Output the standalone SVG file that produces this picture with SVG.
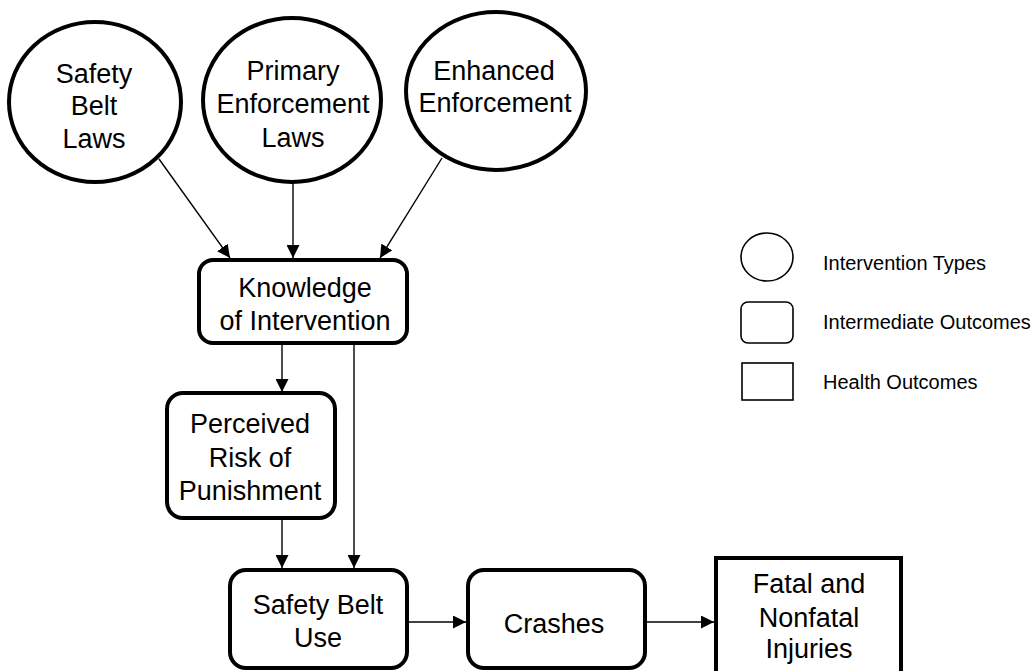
<svg xmlns="http://www.w3.org/2000/svg" width="1035" height="671" viewBox="0 0 1035 671">
<style>
  .node { fill: #fff; stroke: #000; stroke-width: 4; }
  .leg { fill: #fff; stroke: #000; stroke-width: 1.6; }
  .t { font-family: "Liberation Sans", Arial, sans-serif; font-size: 27px; fill: #000; text-anchor: middle; }
  .lt { font-family: "Liberation Sans", Arial, sans-serif; font-size: 20px; fill: #000; }
  .c { stroke: #000; stroke-width: 1.4; fill: none; marker-end: url(#ah); }
</style>
<defs>
  <marker id="ah" markerWidth="13" markerHeight="13" viewBox="0 0 13 13" refX="13" refY="6.5" orient="auto" markerUnits="userSpaceOnUse">
    <path d="M0,0 L13,6.5 L0,13 Z" fill="#000"/>
  </marker>
</defs>
<rect width="1035" height="671" fill="#fff"/>

<g id="connectors">
  <line class="c" x1="159" y1="159" x2="230" y2="258"/>
  <line class="c" x1="293" y1="182" x2="293" y2="258"/>
  <line class="c" x1="442" y1="158" x2="380" y2="258"/>
  <line class="c" x1="282" y1="343" x2="282" y2="392"/>
  <line class="c" x1="354" y1="343" x2="354" y2="568"/>
  <line class="c" x1="282" y1="518" x2="282" y2="568"/>
  <line class="c" x1="407" y1="622" x2="466" y2="622"/>
  <line class="c" x1="645" y1="622" x2="714" y2="622"/>
</g>

<g id="safety-belt-laws">
  <ellipse class="node" cx="95" cy="102" rx="86" ry="80"/>
  <text class="t" x="94" y="83">Safety</text>
  <text class="t" x="94" y="115">Belt</text>
  <text class="t" x="94" y="148">Laws</text>
</g>
<g id="primary-enforcement-laws">
  <ellipse class="node" cx="292" cy="100" rx="89" ry="82"/>
  <text class="t" x="293" y="80">Primary</text>
  <text class="t" x="293" y="113">Enforcement</text>
  <text class="t" x="293" y="147">Laws</text>
</g>
<g id="enhanced-enforcement">
  <ellipse class="node" cx="496" cy="91" rx="90" ry="79"/>
  <text class="t" x="494" y="80">Enhanced</text>
  <text class="t" x="495" y="112">Enforcement</text>
</g>
<g id="knowledge">
  <rect class="node" x="199" y="260" width="208" height="83" rx="14"/>
  <text class="t" x="305" y="297">Knowledge</text>
  <text class="t" x="305" y="330">of Intervention</text>
</g>
<g id="perceived-risk">
  <rect class="node" x="167" y="393" width="168" height="125" rx="16"/>
  <text class="t" x="250" y="433">Perceived</text>
  <text class="t" x="250" y="467">Risk of</text>
  <text class="t" x="250" y="500">Punishment</text>
</g>
<g id="safety-belt-use">
  <rect class="node" x="230" y="570" width="177" height="98" rx="16"/>
  <text class="t" x="318" y="614">Safety Belt</text>
  <text class="t" x="318" y="647">Use</text>
</g>
<g id="crashes">
  <rect class="node" x="468" y="570" width="177" height="98" rx="16"/>
  <text class="t" x="554" y="633">Crashes</text>
</g>
<g id="fatal-injuries">
  <rect class="node" x="716" y="558" width="185" height="125" stroke-width="5"/>
  <text class="t" x="809" y="593">Fatal and</text>
  <text class="t" x="809" y="627">Nonfatal</text>
  <text class="t" x="809" y="658">Injuries</text>
</g>

<g id="legend">
  <ellipse class="leg" cx="767" cy="257" rx="26" ry="24"/>
  <text class="lt" x="823" y="270">Intervention Types</text>
  <rect class="leg" x="741" y="302" width="52" height="41" rx="7"/>
  <text class="lt" x="823" y="329">Intermediate Outcomes</text>
  <rect class="leg" x="742" y="363" width="51" height="37"/>
  <text class="lt" x="823" y="389">Health Outcomes</text>
</g>
</svg>
